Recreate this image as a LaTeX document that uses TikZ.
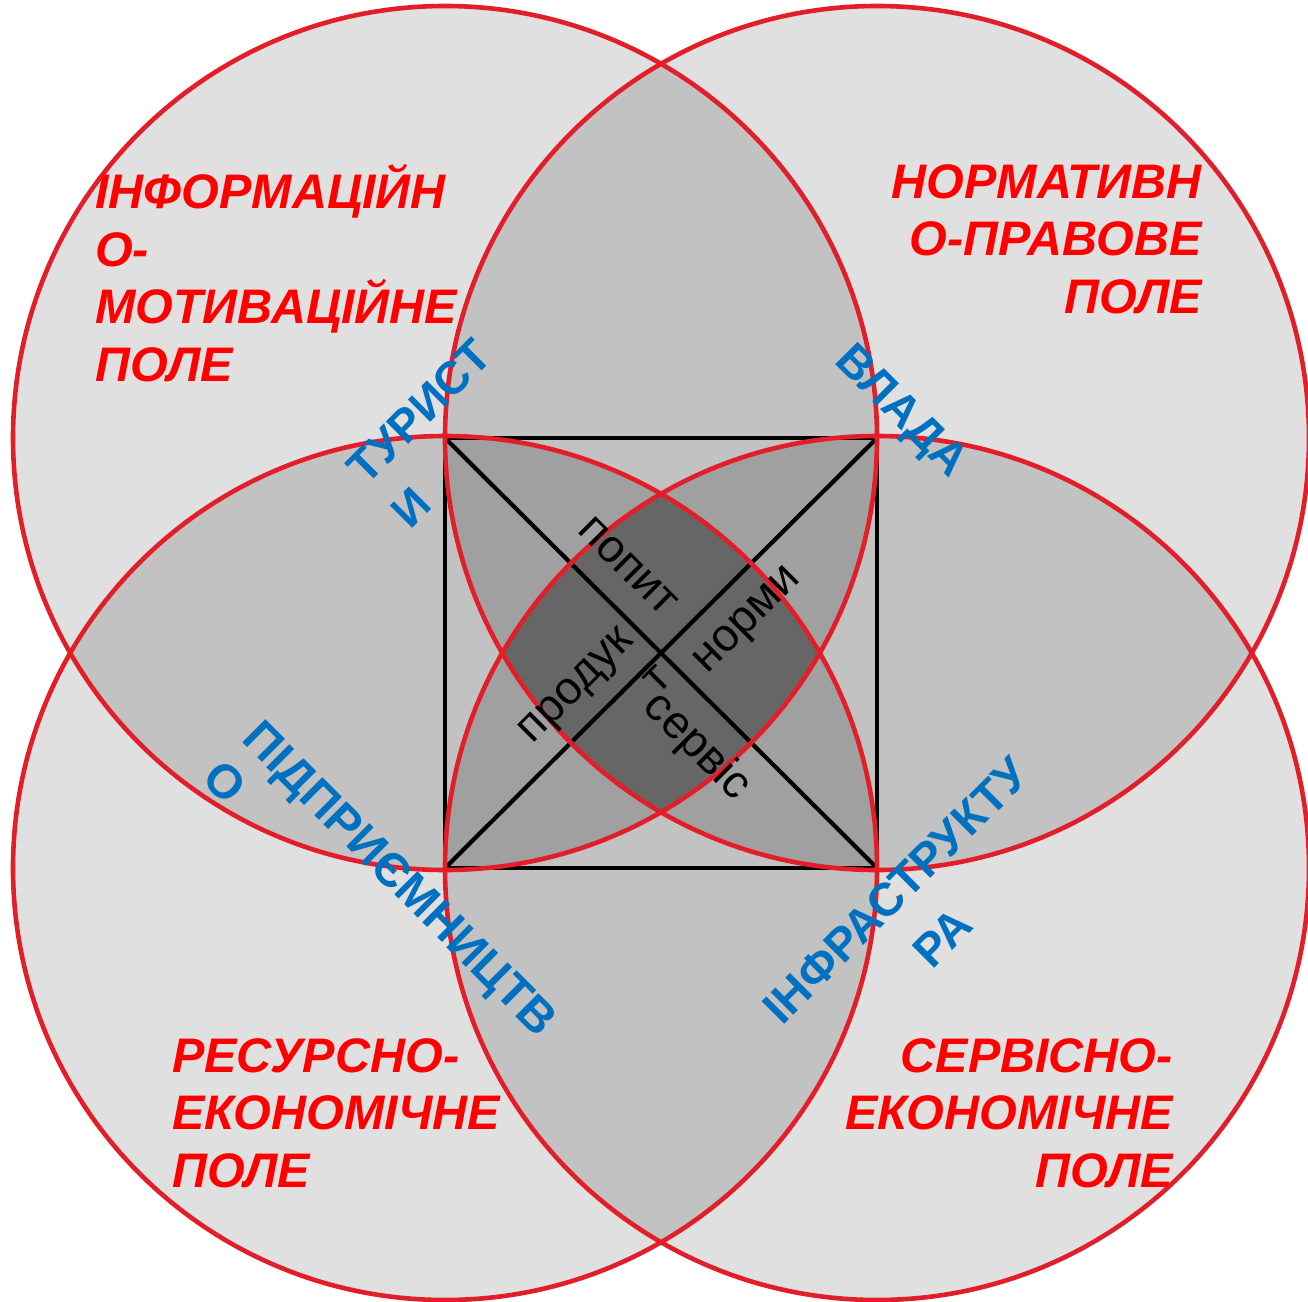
\documentclass[tikz,border=0pt]{standalone}
\usepackage{fontspec}
\setmainfont{Liberation Sans}
\definecolor{lvone}{RGB}{224,224,224}
\definecolor{lvtwo}{RGB}{194,194,194}
\definecolor{lvthree}{RGB}{160,160,160}
\definecolor{lvfour}{RGB}{102,102,102}
\definecolor{ringred}{RGB}{227,30,40}
\definecolor{fieldred}{RGB}{255,0,0}
\definecolor{actorblue}{RGB}{0,112,192}
\begin{document}
\begin{tikzpicture}[x=1pt,y=-1pt,
  ring/.style={draw=ringred,line width=4.6pt},
  squareline/.style={draw=black,line width=4.2pt},
  fieldlabel/.style={text=fieldred,font=\fontsize{48.5}{57.5}\selectfont\bfseries\itshape,inner sep=0pt},
  actorlabel/.style={text=actorblue,inner sep=0pt},
  itemlabel/.style={text=black,inner sep=0pt}]
\useasboundingbox (0,0) rectangle (1308,1301);
\coordinate (TL) at (445,438);
\coordinate (TR) at (877,438);
\coordinate (BL) at (445,868);
\coordinate (BR) at (877,868);
% single
\foreach \a in {TL,TR,BL,BR} {\fill[lvone] (\a) circle[radius=432];}
% pairs
\foreach \a/\b in {TL/TR,TL/BL,TL/BR,TR/BL,TR/BR,BL/BR} {
  \begin{scope}
    \clip (\a) circle[radius=432];
    \fill[lvtwo] (\b) circle[radius=432];
  \end{scope}}
% triples
\foreach \a/\b/\c in {TL/TR/BL,TL/TR/BR,TL/BL/BR,TR/BL/BR} {
  \begin{scope}
    \clip (\a) circle[radius=432];
    \clip (\b) circle[radius=432];
    \fill[lvthree] (\c) circle[radius=432];
  \end{scope}}
% all four
\begin{scope}
  \clip (TL) circle[radius=432];
  \clip (TR) circle[radius=432];
  \clip (BL) circle[radius=432];
  \fill[lvfour] (BR) circle[radius=432];
\end{scope}
% square and diagonals
\draw[squareline] (TL) -- (TR) -- (BR) -- (BL) -- cycle;
\draw[squareline] (TL) -- (BR);
\draw[squareline] (TR) -- (BL);
% rings
\foreach \a in {TL,TR,BL,BR} {\draw[ring] (\a) circle[radius=432];}
% field labels
\node[fieldlabel,anchor=south west,align=left] (info) at (95,382)
  {ІНФОРМАЦІЙН\\О-\\МОТИВАЦІЙНЕ\\ПОЛЕ};
\node[fieldlabel,anchor=south east,align=right] (norm) at (1202,314)
  {НОРМАТИВН\\О-ПРАВОВЕ\\ПОЛЕ};
\node[fieldlabel,anchor=south west,align=left] (res) at (172,1188)
  {РЕСУРСНО-\\ЕКОНОМІЧНЕ\\ПОЛЕ};
\node[fieldlabel,anchor=south east,align=right] (serv) at (1173,1188)
  {СЕРВІСНО-\\ЕКОНОМІЧНЕ\\ПОЛЕ};
% actor labels
\node[actorlabel,rotate=45,align=left,font=\fontsize{46}{62}\selectfont\bfseries] (tour) at (441,433) {ТУРИСТ\\И};
\node[actorlabel,rotate=-45,font=\fontsize{46}{56}\selectfont\bfseries] (gov) at (900,413) {ВЛАДА};
\node[actorlabel,rotate=-45,align=left,font=\fontsize{47.5}{56}\selectfont\bfseries] (biz) at (381,898) {ПІДПРИЄМНИЦТВ\\О};
\node[actorlabel,rotate=45,align=center,font=\fontsize{46.5}{66}\selectfont\bfseries] (infra) at (919,914) {ІНФРАСТРУКТУ\\РА};
% item labels
\node[itemlabel,rotate=-45,font=\fontsize{46}{54}\selectfont] (dem) at (628,566) {попит};
\node[itemlabel,rotate=45,font=\fontsize{46}{54}\selectfont] (nrm) at (749,622) {норми};
\node[itemlabel,rotate=45,align=right,font=\fontsize{46}{54}\selectfont] (prod) at (594,704) {продук\\т};
\node[itemlabel,rotate=-45,font=\fontsize{46}{54}\selectfont] (svc) at (697,747) {сервіс};
\end{tikzpicture}
\end{document}
